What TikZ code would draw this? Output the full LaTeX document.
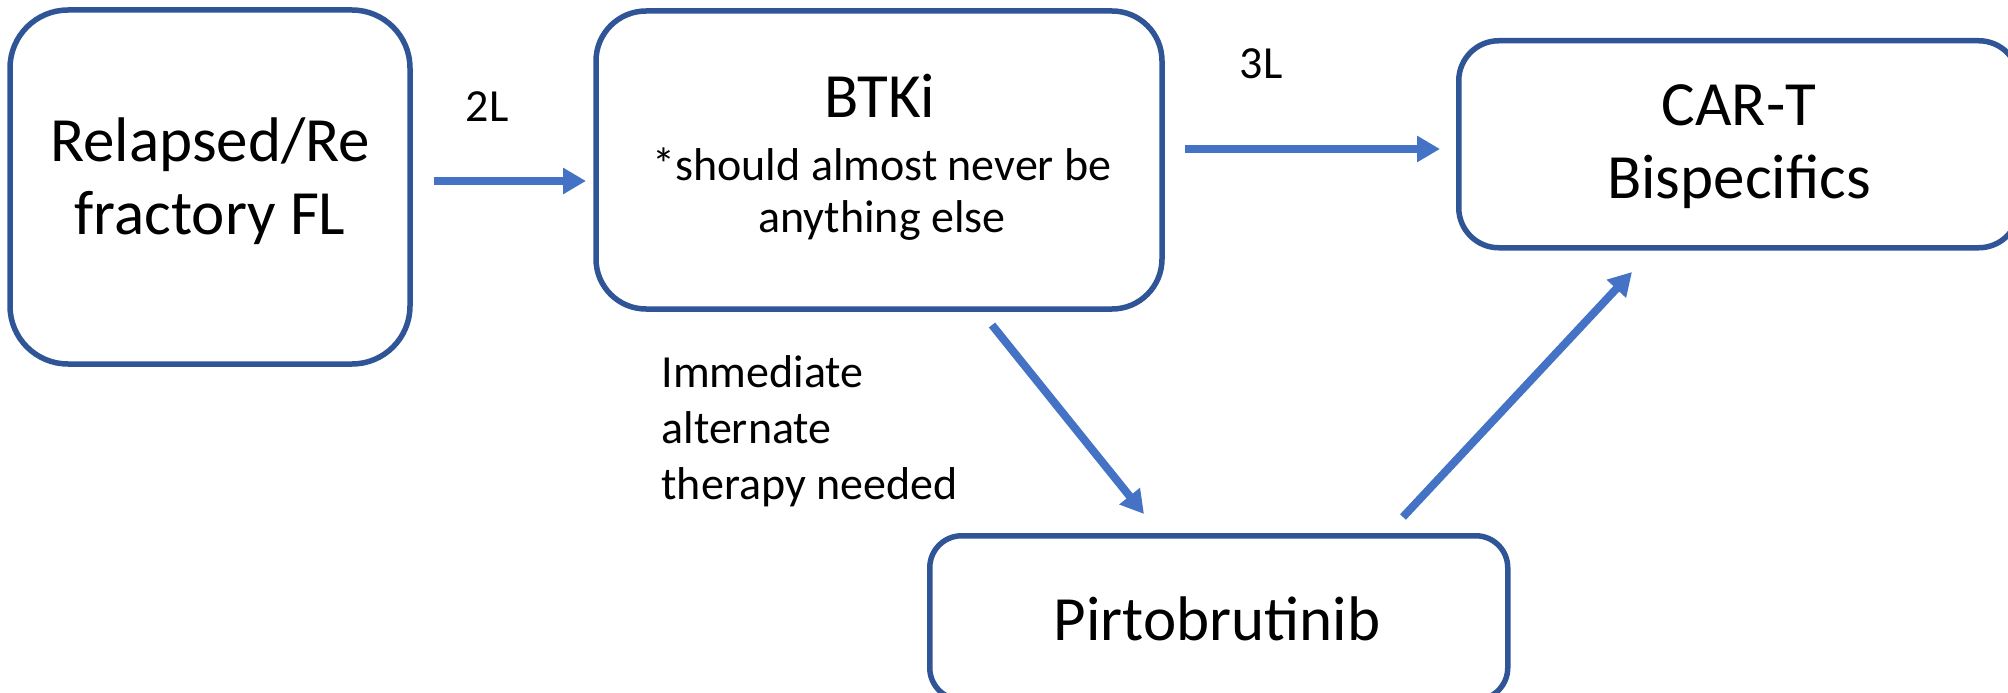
\documentclass[tikz,border=0pt]{standalone}
\usepackage{fontspec}
\setmainfont{Carlito}
\usetikzlibrary{arrows.meta}
\definecolor{boxblue}{HTML}{2F5597}
\definecolor{arrblue}{HTML}{4472C4}
\tikzset{
  box/.style={draw=boxblue, line width=5.5pt, fill=white, inner sep=0pt, align=center},
  flow/.style={draw=arrblue, line width=8pt, -{Triangle[length=23pt,width=25pt]}},
  big/.style={font=\fontsize{63}{73}\selectfont},
  small/.style={font=\fontsize{46}{56}\selectfont},
}
\begin{document}
\begin{tikzpicture}[x=1pt,y=-1pt]
\useasboundingbox (0,0) rectangle (2008,693);
% boxes
\node[box, rounded corners=58pt, minimum width=400pt, minimum height=354pt] (relapse) at (210,187) {};
\node[box, rounded corners=50pt, minimum width=566pt, minimum height=298pt] (btki) at (879,160) {};
\node[box, rounded corners=40pt, minimum width=560pt, minimum height=207pt, anchor=north west] (cart) at (1456,38) {};
\node[box, rounded corners=32pt, minimum width=578pt, minimum height=164pt, anchor=north west] (pirto) at (927,533) {};
% texts
\node[big, align=center] (relapsetxt) at (210,181) {Relapsed/Re\\fractory FL};
\node[big] (btkititle) at (880,96) {BTKi};
\node[small, font=\fontsize{46}{52}\selectfont, align=center] (btkinote) at (882,194) {*should almost never be\\anything else};
\node[big, align=center] (carttxt) at (1739,147) {CAR-T\\Bispecifics};
\node[big] (pirtotxt) at (1217,619) {Pirtobrutinib};
\node[small] (l2) at (487,107) {2L};
\node[small] (l3) at (1261,64) {3L};
\node[small, align=left, anchor=north west] (immed) at (658,352) {Immediate\\alternate\\therapy needed};
% arrow endpoints
\coordinate (a1s) at (434,181);
\coordinate (a1e) at (586,181);
\coordinate (a2s) at (1185,149);
\coordinate (a2e) at (1440,149);
\coordinate (a3s) at (992,325);
\coordinate (a3e) at (1144,514);
\coordinate (a4s) at (1403,517);
\coordinate (a4e) at (1632,272);
\draw[flow] (a1s) -- (a1e);
\draw[flow] (a2s) -- (a2e);
\draw[flow] (a3s) -- (a3e);
\draw[flow] (a4s) -- (a4e);
\end{tikzpicture}
\end{document}
